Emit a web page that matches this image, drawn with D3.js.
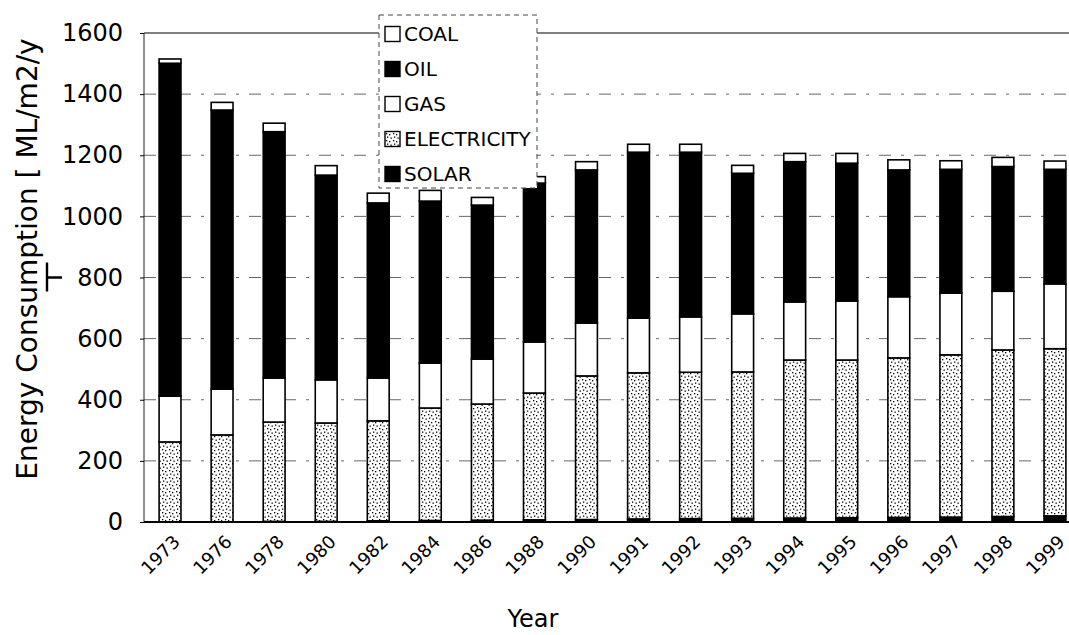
<!DOCTYPE html>
<html>
<head>
<meta charset="utf-8">
<script src="https://cdn.jsdelivr.net/npm/d3@7"></script>
<style>
    body { margin: 0; background: #fff; }
    svg { display: block; font-family: "DejaVu Sans", sans-serif; }
</style>
</head>
<body>
<svg id="chart" width="1069" height="635"></svg>
<script>
// 数据
const years = ["1973", "1976", "1978", "1980", "1982", "1984", "1986", "1988", "1990",
    "1991", "1992", "1993", "1994", "1995", "1996", "1997", "1998", "1999"];
const solar = [0, 0, 2, 2, 4, 5, 6, 7, 8, 10, 11, 12, 13, 14, 15, 16, 18, 20];
const electricity = [262, 285, 325, 322, 327, 368, 380, 415, 470, 478, 479, 479, 517, 516, 522, 531, 545, 547];
const gas = [150, 150, 144, 141, 140, 147, 147, 167, 173, 179, 181, 190, 190, 193, 200, 202, 192, 212];
const oil = [1089, 913, 806, 670, 573, 530, 504, 520, 501, 543, 539, 460, 459, 451, 415, 405, 408, 375];
const coal = [14, 25, 28, 31, 32, 35, 25, 21, 27, 26, 26, 26, 27, 32, 33, 28, 30, 27];
const yTicks = [0, 200, 400, 600, 800, 1000, 1200, 1400, 1600];
const seriesNames = ["SOLAR", "ELECTRICITY", "GAS", "OIL", "COAL"];
const legendNames = ["COAL", "OIL", "GAS", "ELECTRICITY", "SOLAR"];

const TS = (x, y) => `translate(${[x, y]})`;

const ctx = {
    marginLeft: 144,
    marginTop: 33,
    figWidth: 937,
    figHeight: 489
};

const svg = d3.select("#chart");

// 填充：电力用点状纹理
const defs = svg.append("defs");
const pat = defs.append("pattern")
    .attr("id", "dots")
    .attr("patternUnits", "userSpaceOnUse")
    .attr("width", 7)
    .attr("height", 7);
pat.append("rect").attr("width", 7).attr("height", 7).attr("fill", "#fff");
[[1, 1], [4, 2], [2, 4.5], [5.5, 5.5]].forEach(([px, py]) => {
    pat.append("rect").attr("x", px).attr("y", py)
        .attr("width", 1.3).attr("height", 1.3).attr("fill", "#000");
});

const fills = {
    SOLAR: "#000",
    ELECTRICITY: "url(#dots)",
    GAS: "#fff",
    OIL: "#000",
    COAL: "#fff"
};

const rows = years.map((yr, i) => ({
    year: yr,
    SOLAR: solar[i],
    ELECTRICITY: electricity[i],
    GAS: gas[i],
    OIL: oil[i],
    COAL: coal[i]
}));

const xScale = d3.scaleBand()
    .domain(years)
    .range([ctx.marginLeft, ctx.marginLeft + ctx.figWidth])
    .paddingInner(0.58)
    .paddingOuter(0.29);

const yScale = d3.scaleLinear()
    .domain([0, 1600])
    .range([ctx.marginTop + ctx.figHeight, ctx.marginTop]);

// 网格线
svg.append("g")
    .selectAll("line")
    .data(yTicks.filter(d => d > 0 && d < 1600))
    .enter()
    .append("line")
    .attr("x1", ctx.marginLeft)
    .attr("x2", ctx.marginLeft + ctx.figWidth)
    .attr("y1", d => yScale(d))
    .attr("y2", d => yScale(d))
    .attr("stroke", "#000")
    .attr("stroke-opacity", 0.6)
    .attr("stroke-dasharray", "12,10,3,10");

// 堆叠柱
const stacked = d3.stack().keys(seriesNames)(rows);

svg.append("g")
    .selectAll("g")
    .data(stacked)
    .enter()
    .append("g")
    .attr("fill", d => fills[d.key])
    .selectAll("rect")
    .data(d => d)
    .enter()
    .append("rect")
    .attr("x", d => xScale(d.data.year))
    .attr("width", xScale.bandwidth())
    .attr("y", d => yScale(d[1]))
    .attr("height", d => yScale(d[0]) - yScale(d[1]))
    .attr("stroke", "#000")
    .attr("stroke-width", 1.6);

// 坐标框
svg.append("line")
    .attr("x1", ctx.marginLeft).attr("x2", ctx.marginLeft + ctx.figWidth)
    .attr("y1", yScale(1600)).attr("y2", yScale(1600))
    .attr("stroke", "#000");
svg.append("line")
    .attr("x1", ctx.marginLeft).attr("x2", ctx.marginLeft)
    .attr("y1", yScale(0)).attr("y2", yScale(1600))
    .attr("stroke", "#222");
svg.append("line")
    .attr("x1", ctx.marginLeft).attr("x2", ctx.marginLeft + ctx.figWidth)
    .attr("y1", yScale(0)).attr("y2", yScale(0))
    .attr("stroke", "#000")
    .attr("stroke-width", 1.8);

// y 轴
const yAxis = svg.append("g")
    .attr("transform", TS(ctx.marginLeft, 0))
    .call(d3.axisLeft(yScale)
        .tickValues(yTicks)
        .tickFormat(d3.format("d"))
        .tickSize(4)
        .tickPadding(17));
yAxis.select(".domain").remove();
yAxis.selectAll("text")
    .attr("font-size", 24)
    .attr("font-family", "DejaVu Sans, sans-serif")
    .attr("fill", "#000");
yAxis.selectAll("line").attr("stroke", "#000");

// x 轴
const xAxis = svg.append("g")
    .attr("transform", TS(0, yScale(0)))
    .call(d3.axisBottom(xScale).tickSize(0).tickPadding(0));
xAxis.select(".domain").remove();
xAxis.selectAll("text")
    .attr("y", 0)
    .attr("dy", 0)
    .attr("text-anchor", "end")
    .attr("font-size", 18)
    .attr("font-family", "DejaVu Sans, sans-serif")
    .attr("fill", "#000")
    .attr("transform", "translate(11,21) rotate(-45)");

// 轴标题
svg.append("text")
    .attr("transform", TS(37, 259) + " rotate(-90)")
    .attr("text-anchor", "middle")
    .attr("font-size", 28)
    .text("Energy Consumption [ ML/m2/y");
// 标题末尾错位的括号
const y800 = yScale(800);
svg.append("path")
    .attr("d", `M47,${y800 - 15}V${y800 + 14}M47,${y800}H62`)
    .attr("fill", "none")
    .attr("stroke", "#000")
    .attr("stroke-width", 2.4);
svg.append("text")
    .attr("x", 533)
    .attr("y", 627)
    .attr("text-anchor", "middle")
    .attr("font-size", 24)
    .text("Year");

// 图例
const legend = svg.append("g").attr("transform", TS(379, 15));
legend.append("rect")
    .attr("width", 158)
    .attr("height", 173)
    .attr("fill", "#fff")
    .attr("stroke", "#444")
    .attr("stroke-dasharray", "5,4");
const item = legend.selectAll("g.item")
    .data(legendNames)
    .enter()
    .append("g")
    .attr("class", "item")
    .attr("transform", (d, i) => TS(6, 19 + i * 35));
item.append("rect")
    .attr("y", -7.5)
    .attr("width", 15)
    .attr("height", 15)
    .attr("fill", d => fills[d])
    .attr("stroke", "#000")
    .attr("stroke-width", 1.4);
item.append("text")
    .attr("x", 19)
    .attr("dy", "0.36em")
    .attr("font-size", 20)
    .text(d => d);
</script>
</body>
</html>
